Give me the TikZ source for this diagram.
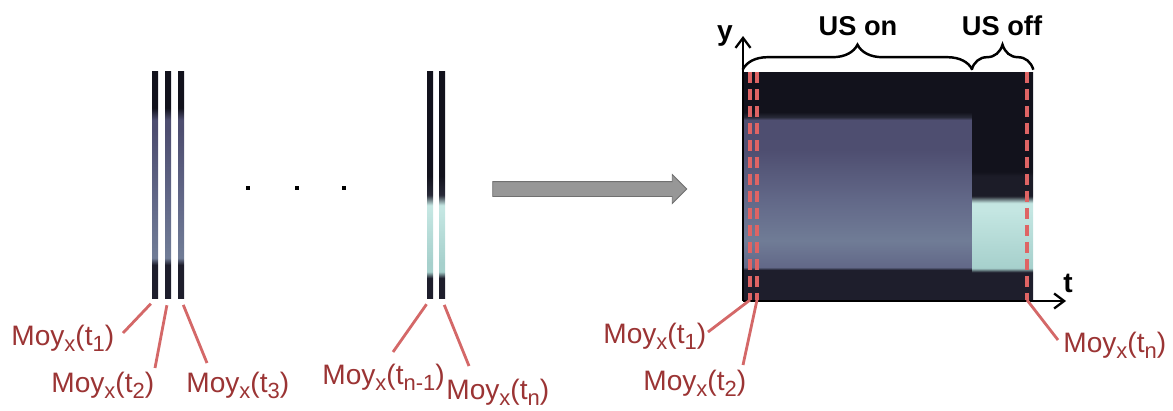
\documentclass[tikz,border=0pt]{standalone}
\usepackage{fontspec}
\setmainfont{Liberation Sans}
\usetikzlibrary{arrows.meta,positioning,shapes.arrows,decorations.pathreplacing}
\definecolor{cLbl}{RGB}{155,52,52}
\definecolor{cLine}{RGB}{212,104,104}
\definecolor{cDash}{RGB}{222,100,100}
\definecolor{cArrow}{RGB}{151,151,151}
\definecolor{cArrowEdge}{RGB}{112,112,112}
\definecolor{cNight}{RGB}{18,18,28}
\definecolor{cDeep}{RGB}{30,30,44}
\definecolor{cSmoke}{RGB}{40,42,56}
\definecolor{cShade}{RGB}{28,28,40}
\definecolor{cSlate}{RGB}{78,78,112}
\definecolor{cMist}{RGB}{98,104,136}
\definecolor{cHaze}{RGB}{112,124,150}
\definecolor{cIce}{RGB}{196,230,226}
\definecolor{cIceLo}{RGB}{166,208,204}
% low index as in the slides
\newcommand{\idx}[1]{\raisebox{-0.24em}{\fontsize{12.5}{15}\selectfont #1}}
\newcommand{\moy}[1]{Moy\idx{x}(t\idx{#1})}
% vertical profiles, 25bp = bottom, 75bp = top
\pgfdeclareverticalshading{stripBlue}{100bp}{color(0bp)=(cDeep); color(32.5bp)=(cDeep);
  color(34bp)=(cHaze); color(46.7bp)=(cMist); color(62bp)=(cSlate); color(64.3bp)=(cSlate);
  color(66.9bp)=(cNight); color(100bp)=(cNight)}
\pgfdeclareverticalshading{stripIce}{100bp}{color(0bp)=(cDeep); color(29.6bp)=(cDeep);
  color(31bp)=(cIceLo); color(33bp)=(cIceLo); color(44.5bp)=(cIce); color(45.6bp)=(cIce);
  color(47.8bp)=(cSmoke); color(52bp)=(cNight); color(100bp)=(cNight)}
\pgfdeclareverticalshading{imgOn}{100bp}{color(0bp)=(cDeep); color(31.6bp)=(cDeep);
  color(32.2bp)=(cMist); color(38bp)=(cHaze); color(47bp)=(cMist); color(58bp)=(cSlate);
  color(64.5bp)=(cSlate); color(65.1bp)=(cSmoke); color(66.2bp)=(cNight); color(100bp)=(cNight)}
\pgfdeclareverticalshading{imgOff}{100bp}{color(0bp)=(cDeep); color(31.1bp)=(cDeep);
  color(32bp)=(cIceLo); color(44.7bp)=(cIce); color(46.3bp)=(cIce); color(47.8bp)=(cShade);
  color(52.2bp)=(cShade); color(53.1bp)=(cNight); color(100bp)=(cNight)}
\tikzset{
  strip/.style={rectangle,inner sep=0pt,shade,minimum width=0.12cm,
                minimum height=4.56cm},
  imgpart/.style={rectangle,inner sep=0pt,shade,minimum height=4.56cm},
  dotsq/.style={rectangle,inner sep=0pt,fill=black,minimum size=0.08cm},
  lbl/.style={anchor=base west,inner sep=0pt,text=cLbl,
              font=\fontsize{16}{19}\selectfont},
  lblline/.style={draw=cLine,line width=1.6pt,shorten >=0.12cm},
  usdash/.style={draw=cDash,line width=2pt,dash pattern=on 0.22cm off 0.12cm},
  uslbl/.style={anchor=base,inner sep=0pt,font=\fontsize{15.5}{18}\selectfont\bfseries},
  axlbl/.style={anchor=base,inner sep=0pt,font=\fontsize{16}{19}\selectfont\bfseries},
  axis/.style={line width=1.3pt,-{Straight Barb[length=0.2cm,width=0.3cm]}},
  usbrace/.style={line width=1.4pt,decorate,
                  decoration={brace,amplitude=0.5cm,raise=0.04cm}},
  bigarrow/.style={single arrow,fill=cArrow,draw=cArrowEdge,line width=0.5pt,
                   inner xsep=0pt,inner ysep=0.14cm,minimum height=3.88cm,
                   single arrow head extend=0.14cm}
}
\begin{document}
\begin{tikzpicture}[x=0.02cm,y=-0.02cm]
  \useasboundingbox (0,0) rectangle (1173,410);

  % mean profiles, one per time
  \node[strip,shading=stripBlue] (s1) at (155,185) {};
  \node[strip,shading=stripBlue] (s2) at (168,185) {};
  \node[strip,shading=stripBlue] (s3) at (181,185) {};
  \foreach \i/\x in {1/248,2/297,3/344}
    \node[dotsq] (dot\i) at (\x,188) {};
  \node[strip,shading=stripIce] (sm) at (430,185) {};
  \node[strip,shading=stripIce] (sn) at (442,185) {};

  % their labels
  \node[lbl] (l1) at (11,345) {\moy{1}};
  \node[lbl] (l2) at (51,392) {\moy{2}};
  \node[lbl] (l3) at (186,392) {\moy{3}};
  \node[lbl] (lm) at (322,384) {\moy{n-1}};
  \node[lbl] (ln) at (446,399) {\moy{n}};
  \coordinate (l1tip) at (123,333);
  \coordinate (l2tip) at (155,368);
  \coordinate (l3tip) at (207,363);
  \coordinate (lmtip) at (393,352);
  \coordinate (lntip) at (469,366);
  \draw[lblline] (l1tip) -- (s1.south);
  \draw[lblline] (l2tip) -- (s2.south);
  \draw[lblline] (l3tip) -- (s3.south);
  \draw[lblline] (lmtip) -- (sm.south);
  \draw[lblline] (lntip) -- (sn.south);

  % stacking
  \node[bigarrow] (conv) at (586,189) {};

  % space-time image
  \node[imgpart,minimum width=4.58cm,shading=imgOn] (on) at (857.5,186) {};
  \node[imgpart,minimum width=1.22cm,shading=imgOff] (off) at (1002.5,186) {};
  \foreach \n/\x in {1/750,2/757,n/1027}
    \draw[usdash] (\x,72) -- (\x,300) coordinate (d\n);

  % axes
  \coordinate (o) at (743,301);
  \draw[axis] (o) -- (743,36);
  \draw[axis] (o) -- (1066,301);
  \node[axlbl] (ylbl) at (725,40) {y};
  \node[axlbl] (tlbl) at (1068,292) {t};

  % phases
  \draw[usbrace] (on.north west) -- (on.north east);
  \draw[usbrace] (off.north west) -- (off.north east);
  \node[uslbl] (uson) at (858,35) {US on};
  \node[uslbl] (usoff) at (1002,35) {US off};

  % labels on the image
  \node[lbl] (r1) at (603,343) {\moy{1}};
  \node[lbl] (r2) at (643,390) {\moy{2}};
  \node[lbl] (rn) at (1063,352) {\moy{n}};
  \coordinate (r1tip) at (708,332);
  \coordinate (r2tip) at (743,365);
  \coordinate (rntip) at (1058,340);
  \draw[lblline,shorten >=0pt] (r1tip) -- (d1);
  \draw[lblline,shorten >=0pt] (r2tip) -- (d2);
  \draw[lblline,shorten >=0pt] (rntip) -- (dn);

\end{tikzpicture}
\end{document}
